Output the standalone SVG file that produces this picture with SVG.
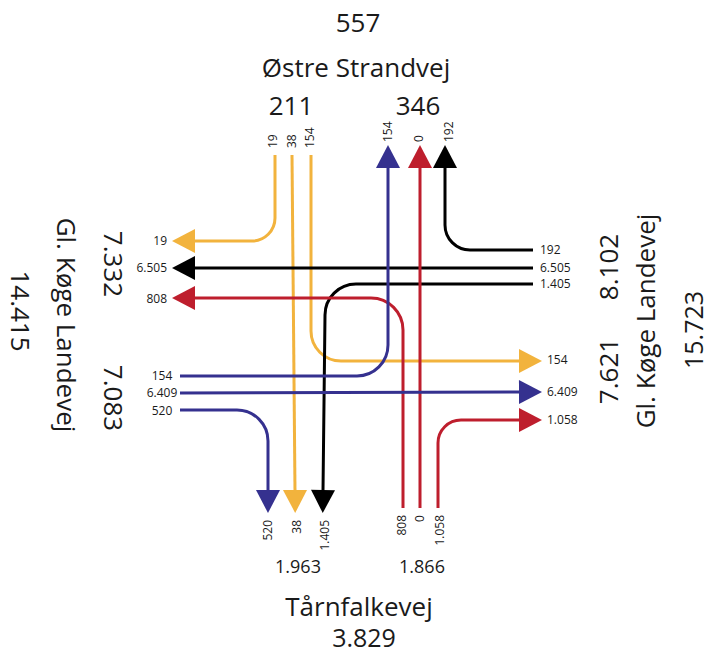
<svg xmlns="http://www.w3.org/2000/svg" width="711" height="654" viewBox="0 0 711 654">
<style>
text{font-family:"Open Sans","Liberation Sans",sans-serif;fill:#1a1a1a}
.big{font-size:26px}
.mid{font-size:18px}
.sm{font-size:12px}
.c{text-anchor:middle}
.e{text-anchor:end}
.flow{fill:none;stroke-width:3}
.y{stroke:#F2B33D}
.k{stroke:#000}
.r{stroke:#BE1E2D}
.b{stroke:#35318F}
</style>
<defs>
<marker id="ay" markerUnits="userSpaceOnUse" markerWidth="24" markerHeight="24" viewBox="0 0 23 24" refX="1" refY="12" orient="auto"><path d="M0,0 L23,12 L0,24 Z" fill="#F2B33D"/></marker>
<marker id="ak" markerUnits="userSpaceOnUse" markerWidth="24" markerHeight="24" viewBox="0 0 23 24" refX="1" refY="12" orient="auto"><path d="M0,0 L23,12 L0,24 Z" fill="#000"/></marker>
<marker id="ar" markerUnits="userSpaceOnUse" markerWidth="24" markerHeight="24" viewBox="0 0 23 24" refX="1" refY="12" orient="auto"><path d="M0,0 L23,12 L0,24 Z" fill="#BE1E2D"/></marker>
<marker id="ab" markerUnits="userSpaceOnUse" markerWidth="24" markerHeight="24" viewBox="0 0 23 24" refX="1" refY="12" orient="auto"><path d="M0,0 L23,12 L0,24 Z" fill="#35318F"/></marker>
</defs>
<rect width="711" height="654" fill="#fff"/>

<g id="connectors">
<path class="flow y" d="M275,155 V218 A23,23 0 0 1 252,241 H194" marker-end="url(#ay)"/>
<path class="flow y" d="M292,155 L295,491" marker-end="url(#ay)"/>
<path class="flow y" d="M311,155 V331 A30,30 0 0 0 341,361 H520" marker-end="url(#ay)"/>
<path class="flow k" d="M533,268 H194" marker-end="url(#ak)"/>
<path class="flow k" d="M533,250 H470 A25,25 0 0 1 445,225 V167" marker-end="url(#ak)"/>
<path class="flow k" d="M533,284 H356 A31,31 0 0 0 325,315 L323,491" marker-end="url(#ak)"/>
<path class="flow r" d="M403,508 V330 A32,32 0 0 0 371,298 H194" marker-end="url(#ar)"/>
<path class="flow r" d="M420,508 V167" marker-end="url(#ar)"/>
<path class="flow r" d="M438,508 V443 A23,23 0 0 1 461,420 H520" marker-end="url(#ar)"/>
<path class="flow b" d="M180,376 H357 A31,31 0 0 0 388,345 V167" marker-end="url(#ab)"/>
<path class="flow b" d="M180,393 L520,392" marker-end="url(#ab)"/>
<path class="flow b" d="M180,410 H237 A31,31 0 0 1 268,441 V491" marker-end="url(#ab)"/>
</g>

<g id="north">
<text class="big c" x="358" y="32">557</text>
<text class="big c" x="356" y="77">Østre Strandvej</text>
<text class="big c" x="291" y="115">211</text>
<text class="big c" x="418" y="115">346</text>
<text class="sm" transform="translate(277,148) rotate(-90)">19</text>
<text class="sm" transform="translate(296,148) rotate(-90)">38</text>
<text class="sm" transform="translate(314,148) rotate(-90)">154</text>
<text class="sm" transform="translate(392,142) rotate(-90)">154</text>
<text class="sm" transform="translate(423,142) rotate(-90)">0</text>
<text class="sm" transform="translate(453,142) rotate(-90)">192</text>
</g>

<g id="south">
<text class="sm e" transform="translate(272,520) rotate(-90)">520</text>
<text class="sm e" transform="translate(301,520) rotate(-90)">38</text>
<text class="sm e" transform="translate(329,520) rotate(-90)">1.405</text>
<text class="sm e" transform="translate(406,515) rotate(-90)">808</text>
<text class="sm e" transform="translate(424,515) rotate(-90)">0</text>
<text class="sm e" transform="translate(444,515) rotate(-90)">1.058</text>
<text class="mid c" x="298" y="573">1.963</text>
<text class="mid c" x="422" y="573">1.866</text>
<text class="big c" x="359" y="616">Tårnfalkevej</text>
<text class="c" style="font-size:25px" x="364" y="647">3.829</text>
</g>

<g id="west">
<text class="sm e" x="167" y="245">19</text>
<text class="sm e" x="167" y="272">6.505</text>
<text class="sm e" x="167" y="303">808</text>
<text class="sm c" x="162" y="380">154</text>
<text class="sm c" x="162" y="397">6.409</text>
<text class="sm c" x="162" y="415">520</text>
<text class="big c" transform="translate(104,264) rotate(90)">7.332</text>
<text class="big c" transform="translate(104,398) rotate(90)">7.083</text>
<text class="big c" transform="translate(57,325) rotate(90)">Gl. Køge Landevej</text>
<text class="big c" transform="translate(11,311) rotate(90)">14.415</text>
</g>

<g id="east">
<text class="sm" x="540" y="254">192</text>
<text class="sm" x="540" y="272">6.505</text>
<text class="sm" x="540" y="288">1.405</text>
<text class="sm" x="547" y="364">154</text>
<text class="sm" x="547" y="396">6.409</text>
<text class="sm" x="547" y="424">1.058</text>
<text class="big c" transform="translate(618,267) rotate(-90)">8.102</text>
<text class="big c" transform="translate(618,371) rotate(-90)">7.621</text>
<text class="big c" transform="translate(655,321) rotate(-90)">Gl. Køge Landevej</text>
<text class="c" style="font-size:25px" transform="translate(703,330) rotate(-90)">15.723</text>
</g>
</svg>
